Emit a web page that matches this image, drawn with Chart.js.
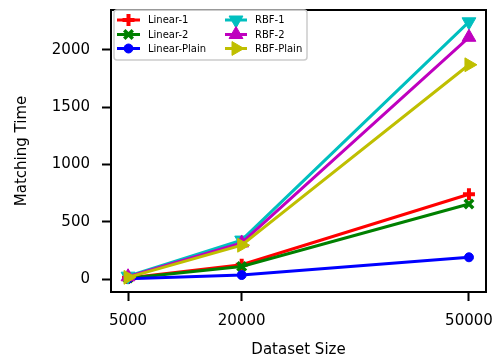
<!DOCTYPE html>
<html>
<head>
<meta charset="utf-8">
<script src="https://cdn.jsdelivr.net/npm/chart.js@4.4.1/dist/chart.umd.min.js"></script>
<style>
  html, body { margin: 0; padding: 0; background: #fff; }
  #wrap { width: 500px; height: 362px; }
</style>
</head>
<body>
<div id="wrap"><canvas id="myChart"></canvas></div>
<script>
// dataset sizes on the x axis
const sizes = [5000, 20000, 50000];
const xTicks = [5000, 20000, 50000];
const yTicks = [0, 500, 1000, 1500, 2000];

// matching time per method
const linear1 = [10, 125, 740];
const linear2 = [8, 110, 655];
const linearPlain = [3, 35, 190];
const rbf1 = [25, 340, 2245];
const rbf2 = [20, 315, 2110];
const rbfPlain = [15, 295, 1870];

const toPts = (ys) => sizes.map((x, i) => ({x: x, y: ys[i]}));

const series = [
  {label: 'Linear-1', data: linear1, color: '#ff0000', style: 'cross', r: 6, bw: 4, rot: 0},
  {label: 'Linear-2', data: linear2, color: '#008000', style: 'crossRot', r: 6, bw: 3.5, rot: 0},
  {label: 'Linear-Plain', data: linearPlain, color: '#0000ff', style: 'circle', r: 4.5, bw: 1, rot: 0},
  {label: 'RBF-1', data: rbf1, color: '#00bfbf', style: 'triangle', r: 8, bw: 1, rot: 180},
  {label: 'RBF-2', data: rbf2, color: '#bf00bf', style: 'triangle', r: 8, bw: 1, rot: 0},
  {label: 'RBF-Plain', data: rbfPlain, color: '#bfbf00', style: 'triangle', r: 8, bw: 1, rot: 90}
];

// box around the plot + matplotlib-like legend inside the axes
const frame = {
  id: 'frame',
  afterDatasetsDraw(chart) {
    const {ctx, chartArea: a} = chart;
    ctx.save();
    ctx.strokeStyle = '#000';
    ctx.lineWidth = 2;
    ctx.strokeRect(a.left, a.top, a.right - a.left, a.bottom - a.top);

    // legend box
    const bx = 114, by = 10, bw = 193, bh = 50;
    ctx.beginPath();
    ctx.roundRect(bx, by, bw, bh, 3);
    ctx.fillStyle = 'rgba(255,255,255,0.8)';
    ctx.fill();
    ctx.strokeStyle = '#cccccc';
    ctx.lineWidth = 1.5;
    ctx.stroke();

    const rows = [20, 34.5, 48.5];
    const cols = [{x1: 117, x2: 140, tx: 148}, {x1: 225, x2: 247, tx: 255}];
    ctx.font = '10px "DejaVu Sans"';
    ctx.textBaseline = 'middle';
    series.forEach((s, i) => {
      const c = cols[Math.floor(i / 3)];
      const y = rows[i % 3];
      ctx.strokeStyle = s.color;
      ctx.lineWidth = 3;
      ctx.beginPath();
      ctx.moveTo(c.x1, y);
      ctx.lineTo(c.x2, y);
      ctx.stroke();
      ctx.fillStyle = s.color;
      ctx.strokeStyle = s.color;
      ctx.lineWidth = s.bw;
      Chart.helpers.drawPoint(ctx, {
        pointStyle: s.style, radius: s.r, rotation: s.rot, borderWidth: s.bw
      }, (c.x1 + c.x2) / 2, y);
      ctx.fillStyle = '#000';
      ctx.fillText(s.label, c.tx, y + 0.5);
    });
    ctx.restore();
  }
};

new Chart(document.getElementById('myChart'), {
  type: 'line',
  data: {
    datasets: series.map((s, i) => ({
      label: s.label,
      data: toPts(s.data),
      borderColor: s.color,
      backgroundColor: s.color,
      pointBackgroundColor: s.color,
      pointBorderColor: s.color,
      pointStyle: s.style,
      pointRadius: s.r,
      pointBorderWidth: s.bw,
      pointRotation: s.rot,
      borderWidth: 3,
      tension: 0,
      fill: false,
      clip: false,
      order: series.length - i
    }))
  },
  options: {
    responsive: true,
    maintainAspectRatio: false,
    animation: false,
    layout: {padding: {top: 9, right: 14, left: 0, bottom: 0}},
    plugins: {legend: {display: false}, tooltip: {enabled: false}},
    scales: {
      x: {
        type: 'linear',
        min: 2750,
        max: 52250,
        afterBuildTicks: (s) => { s.ticks = xTicks.map(v => ({value: v})); },
        afterFit: (s) => { s.height = 70; s.paddingLeft = 0; s.paddingRight = 0; },
        grid: {drawOnChartArea: false, drawTicks: true, tickLength: 9, tickWidth: 2, tickColor: '#000'},
        border: {display: true, color: '#000', width: 2},
        ticks: {color: '#000', padding: 11, maxRotation: 0, font: {family: 'DejaVu Sans', size: 15},
                callback: (v) => String(v)},
        title: {display: true, text: 'Dataset Size', color: '#000',
                font: {family: 'DejaVu Sans', size: 15}, padding: {top: 3, bottom: 3}}
      },
      y: {
        min: -113,
        max: 2348,
        afterBuildTicks: (s) => { s.ticks = yTicks.map(v => ({value: v})); },
        afterFit: (s) => { s.width = 111; s.paddingTop = 0; s.paddingBottom = 0; },
        grid: {drawOnChartArea: false, drawTicks: true, tickLength: 9, tickWidth: 2, tickColor: '#000'},
        border: {display: true, color: '#000', width: 2},
        ticks: {color: '#000', padding: 12, font: {family: 'DejaVu Sans', size: 15},
                callback: (v) => String(v)},
        title: {display: true, text: 'Matching Time', color: '#000',
                font: {family: 'DejaVu Sans', size: 15}, padding: {top: 13, bottom: 13}}
      }
    }
  },
  plugins: [frame]
});
</script>
</body>
</html>
